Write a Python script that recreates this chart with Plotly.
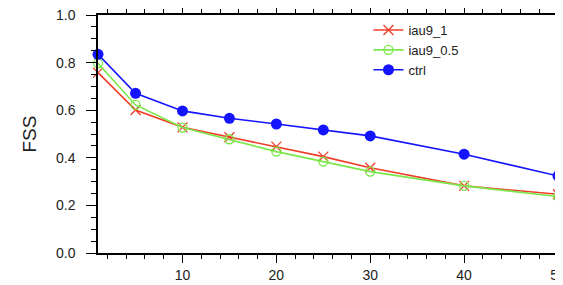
import plotly.graph_objects as go

x_vals = [1, 5, 10, 15, 20, 25, 30, 40, 50]
iau9_1 = [0.758, 0.601, 0.528, 0.486, 0.447, 0.405, 0.358, 0.282, 0.247]
iau9_05 = [0.797, 0.622, 0.527, 0.478, 0.426, 0.384, 0.342, 0.282, 0.237]
ctrl = [0.835, 0.671, 0.597, 0.566, 0.542, 0.517, 0.492, 0.415, 0.324]

FONT = "Liberation Sans, Arial, Helvetica"

fig = go.Figure()
fig.add_trace(go.Scatter(x=x_vals, y=iau9_1, name="iau9_1", mode="lines+markers",
                         line=dict(color="#f03c28", width=1.6),
                         marker=dict(symbol="x-thin-open", size=10, line=dict(color="#f03c28", width=1.3)),
                         cliponaxis=False))
fig.add_trace(go.Scatter(x=x_vals, y=iau9_05, name="iau9_0.5", mode="lines+markers",
                         line=dict(color="#7ae84a", width=1.6),
                         marker=dict(symbol="circle-open", size=9, line=dict(color="#7ae84a", width=1.3)),
                         cliponaxis=False))
fig.add_trace(go.Scatter(x=x_vals, y=ctrl, name="ctrl", mode="lines+markers",
                         line=dict(color="#1414ff", width=1.6),
                         marker=dict(symbol="circle", size=11, color="#1414ff"),
                         cliponaxis=False))

axis_common = dict(showline=True, linecolor="black", linewidth=1.5, mirror="ticks",
                   ticks="outside", tickcolor="black", tickwidth=1.3,
                   showgrid=False, zeroline=False, ticklabeloverflow="allow", automargin=False,
                   tickfont=dict(family=FONT, size=14, color="#222"))
fig.update_xaxes(range=[1, 50], tickvals=[10, 20, 30, 40, 50], ticklen=8,
                 minor=dict(dtick=2, tick0=0, ticks="outside", ticklen=4, tickcolor="black", tickwidth=1),
                 **axis_common)
fig.update_yaxes(range=[0, 1], dtick=0.2, tickformat=".1f", ticklen=10, ticklabelstandoff=8,
                 minor=dict(dtick=0.05, ticks="outside", ticklen=5, tickcolor="black", tickwidth=1),
                 title=dict(text="FSS", font=dict(family=FONT, size=19, color="#222"), standoff=14),
                 **axis_common)

fig.update_layout(width=555, height=277, margin=dict(l=90, r=5, t=7, b=32, autoexpand=False),
                  plot_bgcolor="white", paper_bgcolor="white",
                  legend=dict(x=0.588, y=1.0, xanchor="left", yanchor="top",
                              bgcolor="rgba(0,0,0,0)", borderwidth=0,
                              font=dict(family=FONT, size=13, color="#222"),
                              tracegroupgap=0, itemwidth=30))

fig.write_html("out.html")
